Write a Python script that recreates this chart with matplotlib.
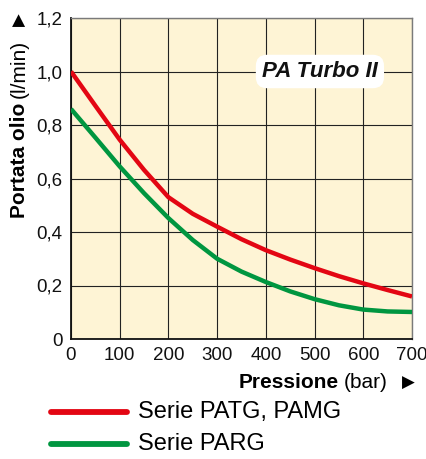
import matplotlib
matplotlib.use("Agg")
import matplotlib.pyplot as plt
from matplotlib.ticker import FixedLocator

# ── Data ───────────────────────────────────────────────────────────────
pressure = [0, 50, 100, 150, 200, 250, 300, 350, 400, 450, 500, 550, 600, 650, 700]
flow_patg = [1.00, 0.872, 0.745, 0.632, 0.53, 0.468, 0.42, 0.373, 0.332, 0.297, 0.265, 0.235, 0.208, 0.183, 0.159]
flow_parg = [0.86, 0.753, 0.645, 0.545, 0.452, 0.37, 0.300, 0.252, 0.213, 0.178, 0.149, 0.126, 0.110, 0.103, 0.101]

x_ticks = [0, 100, 200, 300, 400, 500, 600, 700]
y_ticks = [0, 0.2, 0.4, 0.6, 0.8, 1.0, 1.2]
y_tick_labels = ["0", "0,2", "0,4", "0,6", "0,8", "1,0", "1,2"]

series_names = ["Serie PATG, PAMG", "Serie PARG"]
RED = "#E30613"
GREEN = "#009640"
BG = "#FEF4D5"

plt.rcParams["font.family"] = ["Liberation Sans", "DejaVu Sans"]

W, H = 427, 459
fig = plt.figure(figsize=(W / 100, H / 100), dpi=100)
ax = fig.add_axes([71 / W, 1 - 339 / H, 341 / W, 321 / H])
ax.set_facecolor(BG)

ax.plot(pressure, flow_patg, color=RED, lw=3.2, solid_capstyle="butt", zorder=3)
ax.plot(pressure, flow_parg, color=GREEN, lw=3.2, solid_capstyle="butt", zorder=3)

ax.set_xlim(0, 700)
ax.set_ylim(0, 1.2)
ax.xaxis.set_major_locator(FixedLocator(x_ticks))
ax.yaxis.set_major_locator(FixedLocator(y_ticks))
ax.set_yticklabels(y_tick_labels)
ax.tick_params(length=0, labelsize=13.5, pad=6, colors="#111111")
ax.grid(True, color="#222222", lw=0.8)
ax.set_axisbelow(True)
for side in ["left", "bottom"]:
    ax.spines[side].set_color("#111111")
    ax.spines[side].set_linewidth(1.3)
for side in ["top", "right"]:
    ax.spines[side].set_color("#7a7a7a")
    ax.spines[side].set_linewidth(1.0)

# title badge
ax.text(511, 1.0, "PA Turbo II", fontsize=16, fontweight="bold", fontstyle="italic",
        ha="center", va="center", color="#111111", zorder=4,
        bbox=dict(boxstyle="round,pad=0.28,rounding_size=0.5", fc="white", ec="none"))

# x label: bold + normal + arrow, right aligned at x=415
fig.canvas.draw()
r = fig.canvas.get_renderer()
yb = 1 - 388 / H
t3 = fig.text(415 / W, yb, "\u25B6", fontsize=12, ha="right", va="baseline",
              family=["DejaVu Sans"])
x = t3.get_window_extent(r).x0 - 15
t2 = fig.text(x / W, yb, "(bar)", fontsize=15, ha="right", va="baseline")
x = t2.get_window_extent(r).x0 - 5
fig.text(x / W, yb, "Pressione", fontsize=15, fontweight="bold", ha="right", va="baseline")

# y label: rotated pieces stacked from bottom
xb = 25 / W
y0 = 218
t = fig.text(xb, 1 - y0 / H, "Portata olio", fontsize=15, fontweight="bold",
             rotation=90, rotation_mode="anchor", ha="left", va="baseline")
y = H - t.get_window_extent(r).y1 - 5
t = fig.text(xb, 1 - y / H, "(l/min)", fontsize=15,
             rotation=90, rotation_mode="anchor", ha="left", va="baseline")
y = H - t.get_window_extent(r).y1 - 14
fig.text(xb, 1 - y / H, "\u25B6", fontsize=12, rotation=90, rotation_mode="anchor",
         ha="left", va="baseline", family=["DejaVu Sans"])

# legend drawn by hand below the axes
for name, col, yy in zip(series_names, [RED, GREEN], [412, 444]):
    fig.lines.append(plt.Line2D([51 / W, 127 / W], [1 - yy / H, 1 - yy / H],
                                transform=fig.transFigure, color=col, lw=4.2,
                                solid_capstyle="round"))
    fig.text(138 / W, 1 - yy / H, name, fontsize=17, ha="left", va="center")

fig.savefig("out.png", dpi=100)
